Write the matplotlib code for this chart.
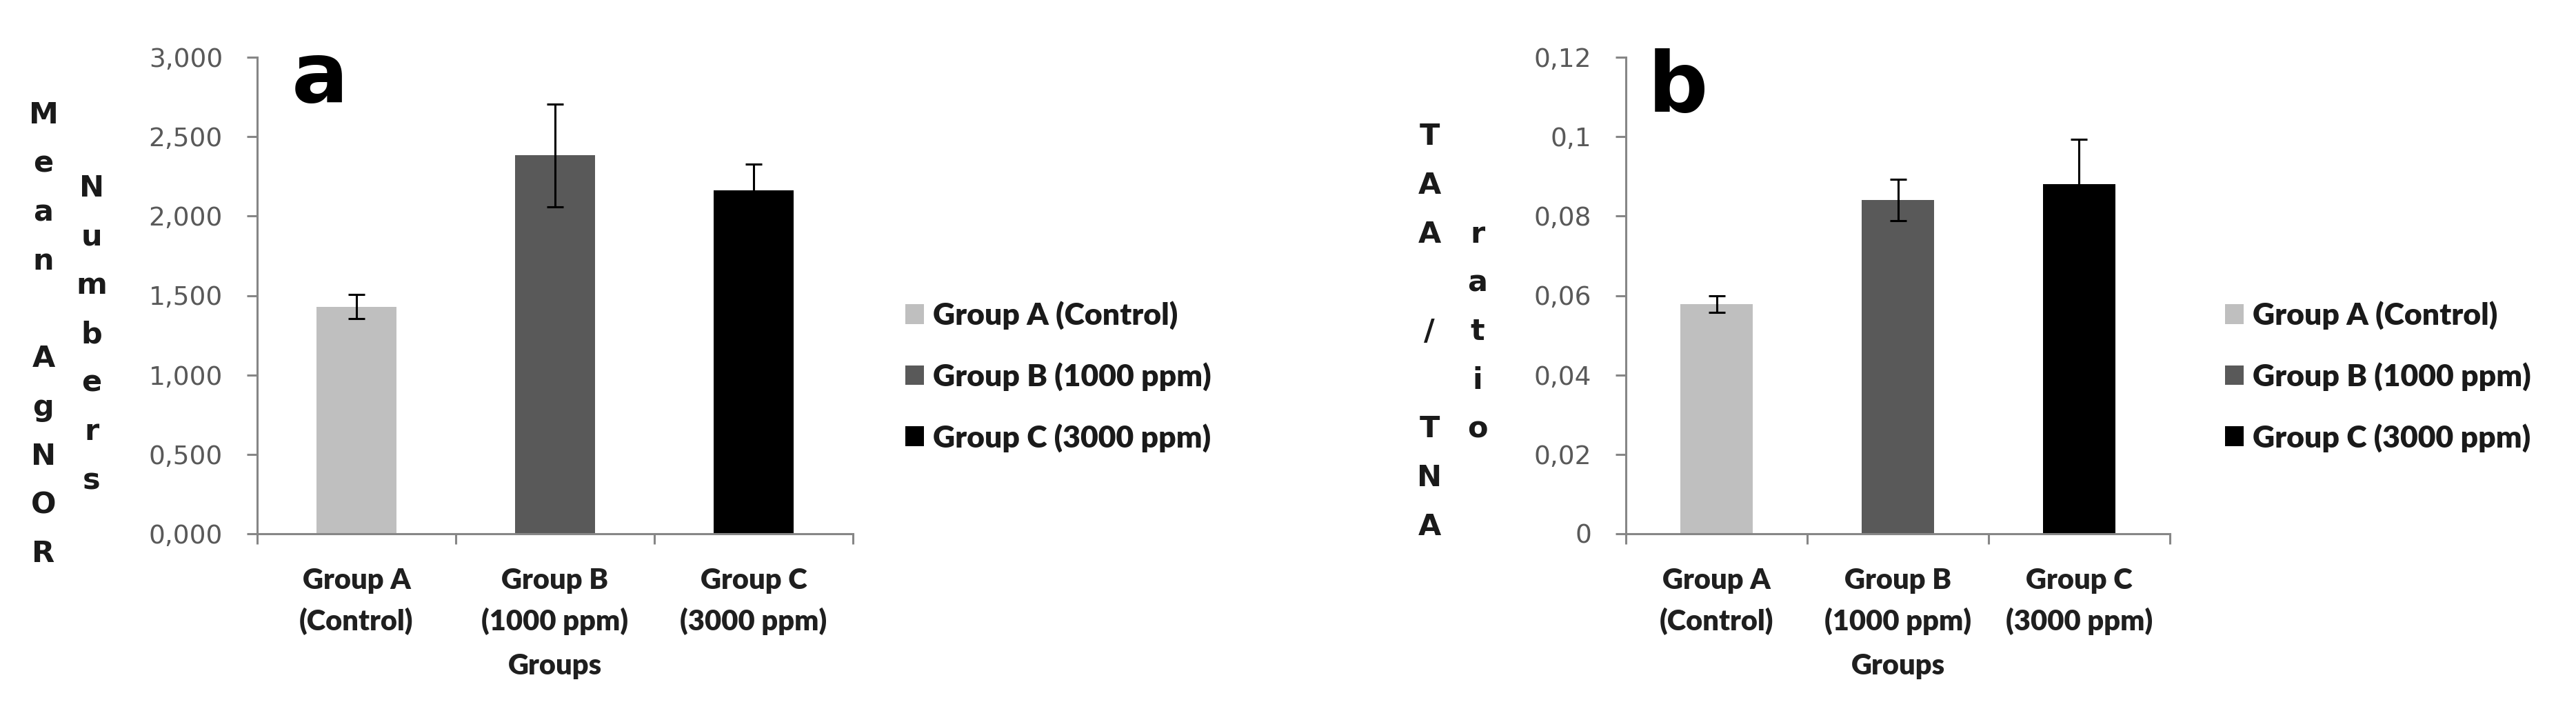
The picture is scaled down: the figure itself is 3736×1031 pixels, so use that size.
import matplotlib
matplotlib.use("Agg")
import matplotlib.pyplot as plt
from matplotlib.patches import Patch
from matplotlib.ticker import FuncFormatter

# data
groups = ["Group A\n(Control)", "Group B\n(1000 ppm)", "Group C\n(3000 ppm)"]
legend_names = ["Group A (Control)", "Group B (1000 ppm)", "Group C (3000 ppm)"]
bar_colors = ["#bfbfbf", "#595959", "#000000"]

agnor_mean = [1.429, 2.382, 2.161]
agnor_err = [0.076, 0.322, 0.168]

taa_ratio = [0.0578, 0.0840, 0.0880]
taa_err = [0.0021, 0.0052, 0.0113]

W, H = 3737, 1031
DPI = 100
bold_font = "Lato"
axis_gray = "#868686"
tick_gray = "#595959"

fig = plt.figure(figsize=(W / DPI, H / DPI), dpi=DPI)


def px_box(x0, x1, y0, y1):
    return [x0 / W, 1 - y1 / H, (x1 - x0) / W, (y1 - y0) / H]


def comma_fmt(decimals):
    def f(v, pos):
        if decimals is None:
            s = ("%.2f" % v).rstrip("0").rstrip(".")
        else:
            s = "%.*f" % (decimals, v)
        return s.replace(".", ",")
    return FuncFormatter(f)


def bar_panel(rect, values, errors, ymax, ystep, fmt, letter, letter_xy):
    ax = fig.add_axes(rect)
    x = range(len(values))
    ax.bar(x, values, width=0.4, color=bar_colors, zorder=2)
    ax.errorbar(x, values, yerr=errors, fmt="none", ecolor="black",
                elinewidth=2.2, capsize=8.5, capthick=2.2, zorder=3)
    ax.set_xlim(-0.5, len(values) - 0.5)
    ax.set_ylim(0, ymax)
    ax.set_yticks([i * ystep for i in range(int(round(ymax / ystep)) + 1)])
    ax.yaxis.set_major_formatter(fmt)

    for s in ["top", "right"]:
        ax.spines[s].set_visible(False)
    for s in ["left", "bottom"]:
        ax.spines[s].set_color(axis_gray)
        ax.spines[s].set_linewidth(2.2)

    ax.set_xticks(list(x))
    ax.set_xticklabels(groups, fontfamily=bold_font, fontweight="heavy",
                       fontsize=30, color="#1f1f1f", linespacing=1.6)
    ax.set_xticks([i - 0.5 for i in range(len(values) + 1)], minor=True)
    ax.tick_params(axis="x", which="major", length=0, pad=35)
    ax.tick_params(axis="x", which="minor", length=11, width=2.2,
                   color=axis_gray, direction="out")
    ax.tick_params(axis="y", length=11, width=2.2, color=axis_gray,
                   labelsize=27, labelcolor=tick_gray, pad=25)
    ax.set_xlabel("Groups", fontfamily=bold_font, fontweight="heavy",
                  fontsize=30, color="#1f1f1f", labelpad=19)

    fig.text(letter_xy[0] / W, 1 - letter_xy[1] / H, letter,
             fontfamily="DejaVu Sans", fontweight="bold", fontsize=88,
             ha="left", va="baseline", color="black")
    return ax


ax_a = bar_panel(px_box(373, 1237, 83, 774), agnor_mean, agnor_err,
                 3.0, 0.5, comma_fmt(3), "a", (423, 148))
ax_b = bar_panel(px_box(2358, 3147, 83, 774), taa_ratio, taa_err,
                 0.12, 0.02, comma_fmt(None), "b", (2390, 162))

# stacked y labels, two columns each
def stacked(text, x, y):
    fig.text(x / W, 1 - y / H, "\n".join(text), fontfamily="DejaVu Sans",
             fontweight="bold", fontsize=31, color="#1a1a1a",
             ha="center", va="center", multialignment="center",
             linespacing=1.87)


stacked("Mean AgNOR", 63, 485)
stacked("Numbers", 133, 485)
stacked("TAA / TNA", 2073, 481)
stacked("ratio", 2143, 481)

handles = [Patch(facecolor=c, edgecolor="none") for c in bar_colors]
for lx in (1313, 3227):
    fig.legend(handles, legend_names, loc="center left",
               bbox_to_anchor=(lx / W, 1 - 546 / H), frameon=False,
               prop={"family": bold_font, "weight": "heavy", "size": 32},
               labelcolor="#1a1a1a", handlelength=0.6, handleheight=0.6,
               handletextpad=0.3, labelspacing=1.05, borderpad=0,
               borderaxespad=0)

fig.savefig("out.png", dpi=DPI, facecolor="white")
